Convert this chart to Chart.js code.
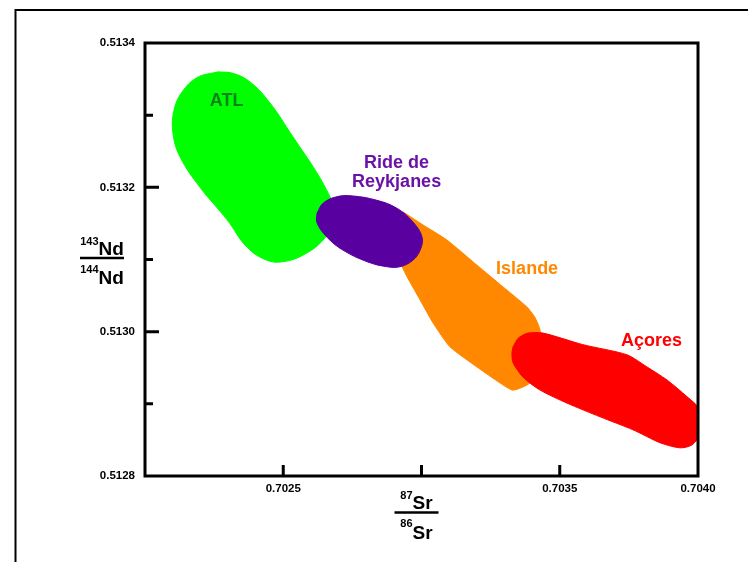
<!DOCTYPE html>
<html lang="fr">
<head>
<meta charset="UTF-8">
<title>87Sr/86Sr - 143Nd/144Nd</title>
<script src="https://cdn.jsdelivr.net/npm/chart.js"></script>
<style>
  body { margin: 0; background: #fff; }
  .box { position: relative; width: 748px; height: 562px; }
</style>
</head>
<body>
<div class="box"><canvas id="isoChart"></canvas></div>
<script>
  // outlines of the fields, 87Sr/86Sr (x) and 143Nd/144Nd (y)
  const regionNames = ['ATL', 'Ride de Reykjanes', 'Islande', 'Açores'];

  const atlSr = [0.702264, 0.702318, 0.702380, 0.702452, 0.702535, 0.702622, 0.702669, 0.702698, 0.702644, 0.702571,
                 0.702499, 0.702441, 0.702369, 0.702297, 0.702199, 0.702127, 0.702101, 0.702105, 0.702134, 0.702188];
  const atlNd = [0.513360, 0.513358, 0.513346, 0.513317, 0.513270, 0.513220, 0.513187, 0.513162, 0.513127, 0.513106,
                 0.513097, 0.513099, 0.513117, 0.513155, 0.513200, 0.513242, 0.513275, 0.513307, 0.513332, 0.513352];

  const reykSr = [0.702622, 0.702644, 0.702694, 0.702752, 0.702839, 0.702911, 0.702969, 0.703002,
                  0.702995, 0.702969, 0.702922, 0.702875, 0.702803, 0.702716, 0.702658, 0.702622];
  const reykNd = [0.513164, 0.513178, 0.513187, 0.513188, 0.513182, 0.513171, 0.513152, 0.513131,
                  0.513113, 0.513099, 0.513090, 0.513090, 0.513097, 0.513113, 0.513131, 0.513151];

  const islSr = [0.702933, 0.703005, 0.703092, 0.703201, 0.703295, 0.703382, 0.703410, 0.703429, 0.703429, 0.703392,
                 0.703331, 0.703284, 0.703201, 0.703103, 0.703042, 0.702995, 0.702948, 0.702922, 0.702904];
  const islNd = [0.513166, 0.513148, 0.513127, 0.513092, 0.513062, 0.513034, 0.513020, 0.513002, 0.512961, 0.512929,
                 0.512919, 0.512929, 0.512951, 0.512979, 0.513012, 0.513044, 0.513076, 0.513097, 0.513127];

  const acoSr = [0.703331, 0.703350, 0.703385, 0.703440, 0.703584, 0.703743, 0.703816, 0.703888, 0.703960, 0.704007, 0.704014,
                 0.703978, 0.703935, 0.703863, 0.703765, 0.703646, 0.703526, 0.703429, 0.703367, 0.703331, 0.703327];
  const acoNd = [0.512979, 0.512991, 0.512998, 0.512998, 0.512982, 0.512968, 0.512951, 0.512933, 0.512910, 0.512892, 0.512861,
                 0.512843, 0.512839, 0.512846, 0.512864, 0.512882, 0.512901, 0.512919, 0.512937, 0.512957, 0.512970];

  const xTickValues = [0.7025, 0.7035, 0.7040];
  const yTickValues = [0.5128, 0.5130, 0.5132, 0.5134];
  const xTickMarks = [0.7025, 0.7030, 0.7035];
  const yMajorMarks = [0.5130, 0.5132];
  const yMinorMarks = [0.5129, 0.5131, 0.5133];

  // where the names are written (data units) and their colours
  const labelSpots = [
    { text: ['ATL'], x: 0.702295, y: 0.513313, color: '#10821c' },
    { text: ['Ride de', 'Reykjanes'], x: 0.702910, y: 0.513227, color: '#6a12a8' },
    { text: ['Islande'], x: 0.703382, y: 0.513080, color: '#ff8800' },
    { text: ['Açores'], x: 0.703832, y: 0.512980, color: '#ff0000' }
  ];

  const FONT = 'Arial, "Liberation Sans", sans-serif';

  function shape(xs, ys, color, order, tension) {
    const pts = xs.map((x, i) => ({ x: x, y: ys[i] }));
    pts.push({ x: xs[0], y: ys[0] });
    return {
      label: '', data: pts, backgroundColor: color, borderColor: color, borderWidth: 1,
      fill: 'shape', order: order, tension: tension, pointRadius: 0, pointHoverRadius: 0
    };
  }

  function fraction(c, cx, ly, supTop, top, supBot, bot) {
    const supFont = 'bold 11px ' + FONT;
    const mainFont = 'bold 19px ' + FONT;
    c.textAlign = 'left';
    c.textBaseline = 'alphabetic';
    c.fillStyle = '#000';
    [[supTop, top, ly - 13.5, ly - 3.5], [supBot, bot, ly + 14.5, ly + 26]].forEach(([s, m, sy, my]) => {
      c.font = supFont; const ws = c.measureText(s).width;
      c.font = mainFont; const wm = c.measureText(m).width;
      const x0 = cx - (ws + wm) / 2;
      c.font = supFont; c.fillText(s, x0, sy);
      c.font = mainFont; c.fillText(m, x0 + ws, my);
    });
    c.strokeStyle = '#000';
    c.lineWidth = 2.5;
    c.beginPath(); c.moveTo(cx - 22, ly); c.lineTo(cx + 22, ly); c.stroke();
  }

  const frame = {
    id: 'frame',
    beforeDraw(chart) {
      const c = chart.ctx;
      c.save();
      c.fillStyle = '#fff';
      c.fillRect(0, 0, chart.width, chart.height);
      c.strokeStyle = '#000';
      c.lineWidth = 2;
      c.beginPath();
      c.moveTo(chart.width, 10); c.lineTo(15.5, 10); c.lineTo(15.5, chart.height);
      c.stroke();
      c.restore();
    },
    afterDatasetsDraw(chart) {
      const c = chart.ctx, sx = chart.scales.x, sy = chart.scales.y;
      c.save();
      c.font = 'bold 18px ' + FONT;
      c.textAlign = 'center';
      c.textBaseline = 'alphabetic';
      labelSpots.forEach(l => {
        c.fillStyle = l.color;
        l.text.forEach((t, i) => c.fillText(t, sx.getPixelForValue(l.x), sy.getPixelForValue(l.y) + i * 19));
      });
      c.restore();
    },
    afterDraw(chart) {
      const c = chart.ctx, a = chart.chartArea, sx = chart.scales.x, sy = chart.scales.y;
      c.save();
      c.strokeStyle = '#000';
      c.lineWidth = 3;
      c.strokeRect(a.left, a.top, a.right - a.left, a.bottom - a.top);
      c.beginPath();
      xTickMarks.forEach(v => { const p = sx.getPixelForValue(v); c.moveTo(p, a.bottom); c.lineTo(p, a.bottom - 11); });
      yMajorMarks.forEach(v => { const p = sy.getPixelForValue(v); c.moveTo(a.left, p); c.lineTo(a.left + 14, p); });
      yMinorMarks.forEach(v => { const p = sy.getPixelForValue(v); c.moveTo(a.left, p); c.lineTo(a.left + 8, p); });
      c.stroke();
      fraction(c, a.left - 43, (a.top + a.bottom) / 2 - 1.5, '143', 'Nd', '144', 'Nd');
      fraction(c, (a.left + a.right) / 2 - 5, a.bottom + 36.5, '87', 'Sr', '86', 'Sr');
      c.restore();
    }
  };

  const tickFont = { family: FONT, size: 11.5, weight: 'bold' };

  new Chart(document.getElementById('isoChart'), {
    type: 'line',
    data: {
      datasets: [
        shape(atlSr, atlNd, '#00ff00', 4, 0.4),
        shape(islSr, islNd, '#ff8800', 3, 0.2),
        shape(acoSr, acoNd, '#ff0000', 2, 0.25),
        shape(reykSr, reykNd, '#5800a0', 1, 0.4)
      ]
    },
    options: {
      responsive: true,
      maintainAspectRatio: false,
      animation: false,
      layout: { padding: { top: 43, right: 50, left: 0, bottom: 0 } },
      plugins: { legend: { display: false }, tooltip: { enabled: false } },
      scales: {
        x: {
          type: 'linear', min: 0.7020, max: 0.7040,
          grid: { display: false, drawTicks: false },
          border: { display: false },
          afterBuildTicks: s => { s.ticks = xTickValues.map(v => ({ value: v })); },
          afterFit: s => { s.height = 86; },
          ticks: { padding: 6, color: '#000', font: tickFont, maxRotation: 0, autoSkip: false,
                   callback: v => Number(v).toFixed(4) }
        },
        y: {
          type: 'linear', min: 0.5128, max: 0.5134,
          grid: { display: false, drawTicks: false },
          border: { display: false },
          afterBuildTicks: s => { s.ticks = yTickValues.map(v => ({ value: v })); },
          afterFit: s => { s.width = 145; },
          ticks: { padding: 10, color: '#000', font: tickFont, autoSkip: false,
                   callback: v => Number(v).toFixed(4) }
        }
      }
    },
    plugins: [frame]
  });
</script>
</body>
</html>
